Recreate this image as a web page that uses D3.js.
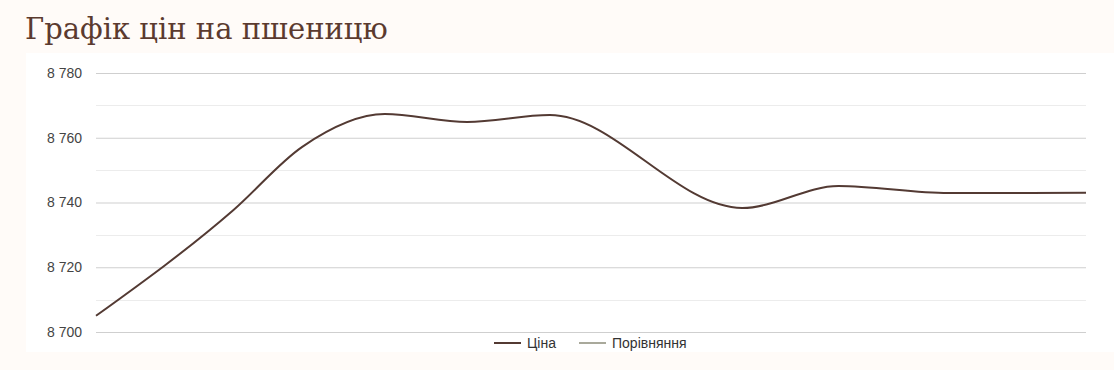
<!DOCTYPE html>
<html>
<head>
<meta charset="utf-8">
<script src="https://cdn.jsdelivr.net/npm/d3@7"></script>
<style>
  body { margin: 0; background: #fffbf8; }
  svg { display: block; }
</style>
</head>
<body>
<div id="chart"></div>
<script>
// price data (dates + values)
var dates = ["2024-01-01", "2024-01-11", "2024-01-16", "2024-01-22", "2024-01-28",
             "2024-02-03", "2024-02-17", "2024-02-24", "2024-03-03", "2024-03-13"];
var prices = [8705, 8737.7, 8757.2, 8767.3, 8764.9, 8767, 8738.3, 8745.1, 8742.9, 8743];
var yTicks = [8700, 8720, 8740, 8760, 8780];
var minorTicks = [8710, 8730, 8750, 8770];
var seriesNames = ["Ціна", "Порівняння"];
var seriesColors = ["#533a33", "#a9a99b"];

var W = 1114, H = 370;
var margin = { top: 73, right: 28, bottom: 38, left: 96 };
var width = W - margin.left - margin.right, height = H - margin.top - margin.bottom;

var parse = d3.timeParse("%Y-%m-%d");
var data = dates.map(function (d, i) { return { date: parse(d), value: prices[i] }; });

var svg = d3.select("#chart").append("svg")
  .attr("width", W).attr("height", H);

// white panel
svg.append("rect").attr("x", 26).attr("y", 53).attr("width", W - 26).attr("height", 299).attr("fill", "#fff");

svg.append("text")
  .attr("x", 25).attr("y", 39)
  .attr("font-family", "'DejaVu Serif', serif")
  .attr("font-size", 29)
  .attr("fill", "#5b3a2f")
  .text("Графік цін на пшеницю");

var g = svg.append("g").attr("transform", "translate(" + margin.left + "," + margin.top + ")");

var x = d3.scaleTime()
  .domain(d3.extent(data, function (d) { return d.date; }))
  .range([0, width]);
var y = d3.scaleLinear().domain([8700, 8780]).range([height, 0]);

g.selectAll(".minor").data(minorTicks).enter().append("line")
  .attr("x1", 0).attr("x2", width)
  .attr("y1", function (d) { return Math.round(y(d)) + 0.5; })
  .attr("y2", function (d) { return Math.round(y(d)) + 0.5; })
  .attr("stroke", "#ececec");

var fmt = function (d) { return d3.format(",")(d).replace(",", " "); };
var yAxis = g.append("g")
  .call(d3.axisLeft(y).tickValues(yTicks).tickSize(-width).tickPadding(14).tickFormat(fmt));
yAxis.select(".domain").remove();
yAxis.selectAll(".tick line").attr("stroke", "#cfcfcf");
yAxis.selectAll(".tick text")
  .attr("font-family", "'Liberation Sans', Arial, sans-serif")
  .attr("font-size", 14).attr("fill", "#444");

var line = d3.line()
  .x(function (d) { return x(d.date); })
  .y(function (d) { return y(d.value); })
  .curve(d3.curveMonotoneX);

g.append("path").datum(data)
  .attr("d", line)
  .attr("fill", "none")
  .attr("stroke", seriesColors[0])
  .attr("stroke-width", 2);

// legend
var legend = svg.append("g").attr("transform", "translate(494,343)");
var offs = [0, 85];
seriesNames.forEach(function (name, i) {
  var item = legend.append("g").attr("transform", "translate(" + offs[i] + ",0)");
  item.append("line").attr("x1", 0).attr("x2", 27).attr("y1", 0).attr("y2", 0)
    .attr("stroke", seriesColors[i]).attr("stroke-width", 2);
  item.append("text").attr("x", 33).attr("y", 5)
    .attr("font-family", "'Liberation Sans', Arial, sans-serif")
    .attr("font-size", 14).attr("fill", "#333")
    .text(name);
});
</script>
</body>
</html>
